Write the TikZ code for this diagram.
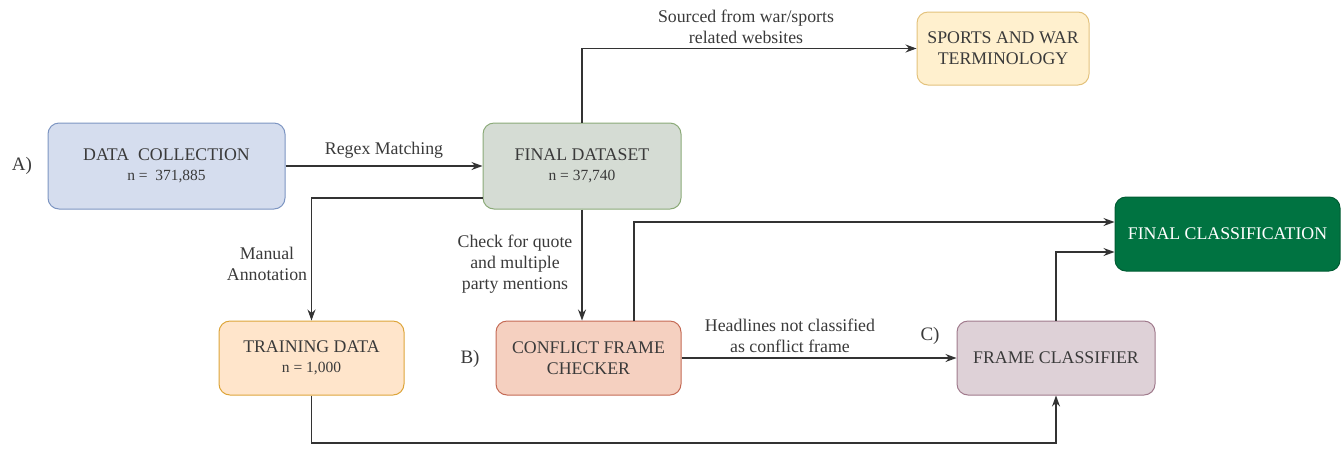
\documentclass[tikz,border=0pt]{standalone}
\usepackage{fontspec}
\setmainfont{Liberation Serif}
\usetikzlibrary{arrows.meta,calc}
\definecolor{txt}{HTML}{3A3A3A}
\definecolor{ln}{HTML}{333333}
\definecolor{dcfill}{HTML}{D5DDEE}\definecolor{dcdraw}{HTML}{7D95C2}
\definecolor{fdfill}{HTML}{D5DCD4}\definecolor{fddraw}{HTML}{8BAA78}
\definecolor{swfill}{HTML}{FFF0CE}\definecolor{swdraw}{HTML}{E3C27C}
\definecolor{tdfill}{HTML}{FFE5CB}\definecolor{tddraw}{HTML}{DDA53A}
\definecolor{cffill}{HTML}{F5D0C0}\definecolor{cfdraw}{HTML}{C46A55}
\definecolor{fcfill}{HTML}{DED1D7}\definecolor{fcdraw}{HTML}{A07A8C}
\definecolor{flfill}{HTML}{007341}\definecolor{fldraw}{HTML}{005C33}
\tikzset{
  box/.style={rounded corners=11pt, line width=1pt, align=center, text=txt,
    font=\fontsize{17.8}{21}\selectfont, inner sep=0pt},
  lbl/.style={text=txt, align=center, font=\fontsize{17.8}{21}\selectfont, inner sep=0pt},
  arr/.style={draw=ln, line width=1.1pt, -{Stealth[length=11pt,width=8pt]}},
  small/.style={font=\fontsize{15.5}{18}\selectfont}
}
\newcommand{\nline}[1]{\\[-1pt]{\fontsize{15.5}{18}\selectfont #1}}
\begin{document}
\begin{tikzpicture}[x=1pt,y=-1pt]
\useasboundingbox (0,0) rectangle (1343,459);
% nodes
\node[box, fill=dcfill, draw=dcdraw, minimum width=237pt, minimum height=86pt] (dc) at (166.5,166) {DATA\ \ COLLECTION\nline{n =\ \ 371,885}};
\node[box, fill=fdfill, draw=fddraw, minimum width=198pt, minimum height=86pt] (fd) at (582,166) {FINAL DATASET\nline{n = 37,740}};
\node[box, fill=swfill, draw=swdraw, minimum width=172pt, minimum height=73pt] (sw) at (1003,48.5) {SPORTS AND WAR\\TERMINOLOGY};
\node[box, fill=tdfill, draw=tddraw, minimum width=185pt, minimum height=74pt] (td) at (311.5,358) {TRAINING DATA\nline{n = 1,000}};
\node[box, fill=cffill, draw=cfdraw, minimum width=185pt, minimum height=74pt] (cf) at (588.5,358) {CONFLICT FRAME\\CHECKER};
\node[box, fill=fcfill, draw=fcdraw, minimum width=198pt, minimum height=74pt] (fc) at (1056,358) {FRAME CLASSIFIER};
\node[box, fill=flfill, draw=fldraw, text=white, minimum width=225pt, minimum height=74pt] (fl) at (1227.5,234) {FINAL CLASSIFICATION};
% side labels
\node[lbl, font=\fontsize{19}{21}\selectfont] (la) at (22,166) {A)};
\node[lbl, font=\fontsize{19}{21}\selectfont] (lb) at (470,359) {B)};
\node[lbl, font=\fontsize{19}{21}\selectfont] (lc) at (930,336) {C)};
% coordinates
\coordinate (fdl) at (483,198);
\coordinate (cft) at (634,321);
\coordinate (bot) at (311.5,443);
% connectors
\draw[arr] (dc.east) -- (fd.west);
\node[lbl] (rm) at (384,150) {Regex Matching};
\draw[arr] (fd.north) |- (sw.west);
\node[lbl] (src) at (746,27) {Sourced from war/sports\\related websites};
\draw[arr] (fdl) -| (td.north);
\node[lbl] (ma) at (267,264) {Manual\\Annotation};
\draw[arr] (fd.south) -- (fd.south |- cf.north);
\node[lbl] (cq) at (515,264) {Check for quote\\and multiple\\party mentions};
\draw[arr] (cft) |- ([yshift=12pt]fl.west);
\draw[arr] (fc.north) |- ([yshift=-18pt]fl.west);
\draw[arr] (cf.east) -- (fc.west);
\node[lbl] (hl) at (790,336) {Headlines not classified\\as conflict frame};
\draw[arr] (td.south) |- (bot -| fc.south) -- (fc.south);
\end{tikzpicture}
\end{document}
